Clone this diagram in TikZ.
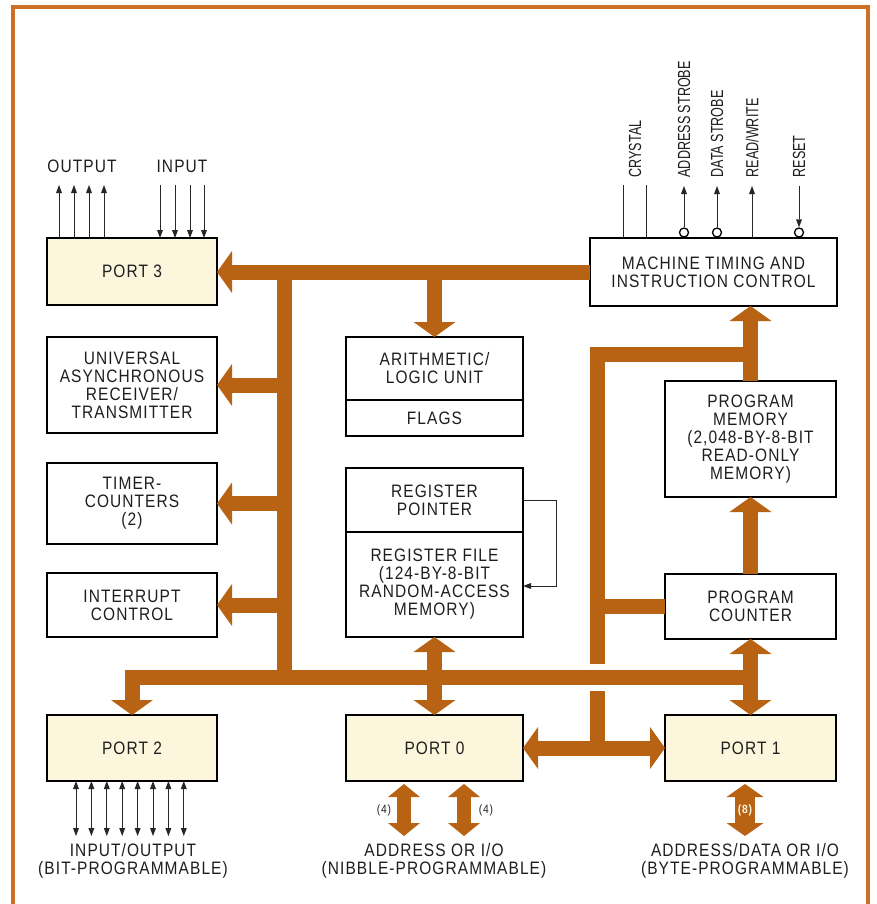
\documentclass[tikz,border=0pt]{standalone}
\usepackage{fontspec}
\setmainfont{Liberation Sans}[FakeStretch=0.86,LetterSpace=6]
\newfontfamily\narrowfont{Liberation Sans}[FakeStretch=0.72]
\usetikzlibrary{arrows.meta,positioning}
\definecolor{busorange}{RGB}{184,98,20}
\definecolor{portfill}{RGB}{252,247,220}
\definecolor{frameorange}{RGB}{204,112,40}
\definecolor{ink}{RGB}{30,30,30}

\begin{document}
\begin{tikzpicture}[x=1pt, y=-1pt, every node/.style={font=\fontsize{18}{18}\selectfont, text=ink}]
\tikzset{blk/.style={draw, line width=2.5pt, fill=white, align=center, inner sep=1pt, outer sep=0pt},
  port/.style={blk, fill=portfill},
  bus/.style={line width=15pt, busorange},
  nbus/.style={line width=14pt, busorange},
  wbus/.style={line width=20pt, busorange},
  pin/.style={line width=1pt, black!85},
  ring/.style={circle, draw, fill=white, line width=1.3pt, minimum size=9pt, inner sep=0pt},
  vlbl/.style={rotate=90, anchor=west, font=\narrowfont\fontsize{17.5}{18}\selectfont},
  bh/.tip={Triangle[width=42pt, length=15pt, line width=0pt]},
  nh/.tip={Triangle[width=32pt, length=13pt, line width=0pt]},
  wh/.tip={Triangle[width=37pt, length=13pt, line width=0pt]},
  ph/.tip={Triangle[width=6pt, length=8pt, line width=0pt]}}
\useasboundingbox (0,0) rectangle (876,904);
\fill[white] (0,0) rectangle (876,904);
\draw[line width=3.5pt, frameorange] (13,904) -- (13,7) -- (868,7) -- (868,904);

\node[port, minimum width=170pt, minimum height=67pt] (port3) at (132,271.5) {PORT 3};
\node[blk, minimum width=247pt, minimum height=68pt] (mtic) at (713.5,272) {MACHINE TIMING AND\\INSTRUCTION CONTROL};
\node[blk, minimum width=170pt, minimum height=96pt] (uart) at (132,385) {UNIVERSAL\\ASYNCHRONOUS\\RECEIVER/\\TRANSMITTER};
\node[blk, minimum width=170pt, minimum height=81pt] (timer) at (132,503.5) {TIMER-\\COUNTERS\\(2)};
\node[blk, minimum width=170pt, minimum height=64pt] (intr) at (132,605) {INTERRUPT\\CONTROL};
\node[blk, minimum width=177pt, minimum height=63pt] (alu) at (434.5,368.5) {ARITHMETIC/\\LOGIC UNIT};
\node[blk, minimum width=177pt, minimum height=36pt, below=0pt of alu] (flags) {FLAGS};
\node[blk, minimum width=177pt, minimum height=64pt] (regptr) at (434.5,500) {REGISTER\\POINTER};
\node[blk, minimum width=177pt, minimum height=105pt, below=0pt of regptr] (regfile) {REGISTER FILE\\(124-BY-8-BIT\\RANDOM-ACCESS\\MEMORY)};
\node[blk, minimum width=171pt, minimum height=116pt] (progmem) at (750.5,439) {PROGRAM\\MEMORY\\(2,048-BY-8-BIT\\READ-ONLY\\MEMORY)};
\node[blk, minimum width=171pt, minimum height=65pt] (pc) at (750.5,606.5) {PROGRAM\\COUNTER};
\node[port, minimum width=170pt, minimum height=66pt] (port2) at (132,748) {PORT 2};
\node[port, minimum width=177pt, minimum height=66pt] (port0) at (434.5,748) {PORT 0};
\node[port, minimum width=171pt, minimum height=66pt] (port1) at (750.5,748) {PORT 1};

% internal buses
\coordinate (lt) at (284,272); \coordinate (lb) at (284,677);
\coordinate (rt) at (597,354); \coordinate (rb) at (597,748);
\coordinate (gapt) at (597,664); \coordinate (gapb) at (597,691);
\draw[bus,-bh] (mtic.west) -- (mtic.west -| port3.east);
\draw[bus,-bh] (mtic.west -| alu.north) -- (alu.north);
\draw[bus] (lt) -- (lb);
\foreach \n in {uart,timer,intr} \draw[bus,-bh] (lt |- \n.east) -- (\n.east);
\draw[bus,-bh] (lb -| pc.south) -- (lb -| port2.north) -- (port2.north);
\draw[bus,bh-bh] (regfile.south) -- (port0.north);
\draw[bus,bh-bh] (pc.south) -- (port1.north);
\draw[bus,bh-bh] (port0.east) -- (port1.west);
\draw[bus] (gapt) -- (rt) -- (rt -| progmem.north);
\draw[bus] (gapb) -- (rb);
\draw[bus] (rt |- pc.west) -- (pc.west);
\draw[bus,-bh] (progmem.north) -- (progmem.north |- mtic.south);
\draw[bus,-bh] (pc.north) -- (progmem.south);

\coordinate (fb) at (556,586);
\draw[pin,-ph] (regptr.east) -| (fb) -- (fb -| regfile.east);

% external pins
\foreach \x [count=\i] in {59,74,89,104}{\coordinate (out\i) at (\x,185); \draw[pin,-ph] (out\i |- port3.north) -- (out\i);}
\foreach \x [count=\i] in {160,175,190,204}{\coordinate (in\i) at (\x,185); \draw[pin,-ph] (in\i) -- (in\i |- port3.north);}
\node (outlbl) at (82,166) {OUTPUT};
\node (inlbl) at (182,166) {INPUT};

\foreach \x [count=\i] in {623,646}{\coordinate (xt\i) at (\x,185); \draw[pin] (xt\i |- mtic.north) -- (xt\i);}
\node[ring] (as) at (684,232.5) {}; \coordinate (ast) at (684,186);
\node[ring] (ds) at (717,232.5) {}; \coordinate (dst) at (717,186);
\node[ring] (rst) at (799,232.5) {}; \coordinate (rstt) at (799,186);
\coordinate (rwt) at (752,186);
\draw[pin,-ph] (as) -- (ast);
\draw[pin,-ph] (ds) -- (dst);
\draw[pin,-ph] (rwt |- mtic.north) -- (rwt);
\draw[pin,-ph] (rstt) -- (rst);
\node[vlbl] (crystal) at (635,181) {CRYSTAL};
\node[vlbl] (aslbl) at (684,181) {ADDRESS STROBE};
\node[vlbl] (dslbl) at (717,181) {DATA STROBE};
\node[vlbl] (rwlbl) at (752,181) {READ/WRITE};
\node[vlbl] (rstlbl) at (799,181) {RESET};

\foreach \i in {0,...,7}{\coordinate (io\i) at ({76+15.4*\i},836); \draw[pin,ph-ph] (io\i |- port2.south) -- (io\i);}
\coordinate (p0a) at (404,836); \coordinate (p0b) at (464,836); \coordinate (p1a) at (745,836);
\draw[nbus,nh-nh,shorten <=3pt] (p0a |- port0.south) -- (p0a);
\draw[nbus,nh-nh,shorten <=3pt] (p0b |- port0.south) -- (p0b);
\draw[wbus,wh-wh,shorten <=3pt] (p1a |- port1.south) -- (p1a);
\node[font=\fontsize{12}{12}\selectfont] (n4a) at (384,810) {(4)};
\node[font=\fontsize{12}{12}\selectfont] (n4b) at (486,810) {(4)};
\node[font=\fontsize{12}{12}\selectfont\bfseries, text=portfill] (n8) at (745,810) {(8)};

\node[align=center] (p2lbl) at (133,861) {INPUT/OUTPUT\\(BIT-PROGRAMMABLE)};
\node[align=center] (p0lbl) at (434,861) {ADDRESS OR I/O\\(NIBBLE-PROGRAMMABLE)};
\node[align=center] (p1lbl) at (745,861) {ADDRESS/DATA OR I/O\\(BYTE-PROGRAMMABLE)};
\end{tikzpicture}
\end{document}
